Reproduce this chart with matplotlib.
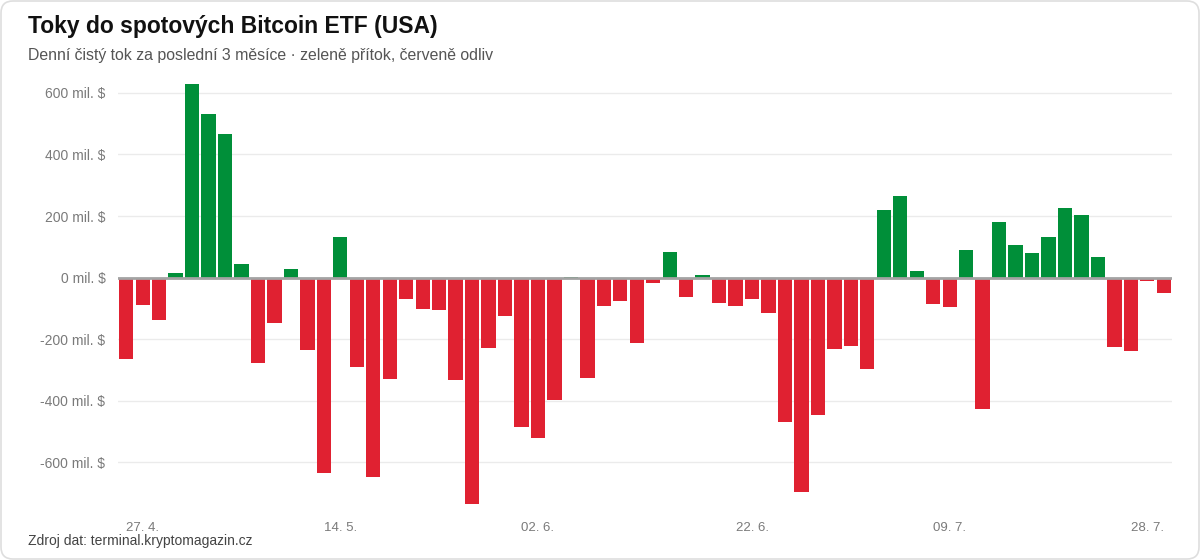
import matplotlib
matplotlib.use("Agg")
import matplotlib.pyplot as plt
from matplotlib.patches import FancyBboxPatch
from matplotlib.ticker import FixedLocator, FuncFormatter

plt.rcParams['font.family'] = ['Liberation Sans', 'DejaVu Sans']

# ---- data ----
dates = ["24. 4.", "27. 4.", "28. 4.", "29. 4.", "30. 4.", "04. 5.", "05. 5.", "06. 5.",
         "07. 5.", "08. 5.", "11. 5.", "12. 5.", "13. 5.", "14. 5.", "15. 5.", "18. 5.",
         "19. 5.", "20. 5.", "21. 5.", "22. 5.", "26. 5.", "27. 5.", "28. 5.", "29. 5.",
         "01. 6.", "02. 6.", "03. 6.", "04. 6.", "05. 6.", "08. 6.", "09. 6.", "10. 6.",
         "11. 6.", "12. 6.", "15. 6.", "16. 6.", "17. 6.", "18. 6.", "22. 6.", "23. 6.",
         "24. 6.", "25. 6.", "26. 6.", "29. 6.", "30. 6.", "01. 7.", "02. 7.", "06. 7.",
         "07. 7.", "08. 7.", "09. 7.", "10. 7.", "13. 7.", "15. 7.", "16. 7.", "17. 7.",
         "20. 7.", "21. 7.", "22. 7.", "23. 7.", "24. 7.", "27. 7.", "28. 7.", "29. 7."]

flows = [-263, -90, -137, 14, 629, 532, 466, 45, -278, -146, 27, -234, -635, 131, -290, -648,
         -331, -70, -101, -105, -333, -734, -228, -126, -484, -520, -397, 3, -327, -91, -77, -214,
         -19, 84, -64, 9, -82, -91, -68, -115, -469, -697, -445, -232, -223, -296, 221, 264,
         21, -86, -96, 89, -426, 180, 107, 79, 131, 226, 202, 68, -225, -240, -12, -50]

tick_labels = ["27. 4.", "14. 5.", "02. 6.", "22. 6.", "09. 7.", "28. 7."]
y_ticks = [-600, -400, -200, 0, 200, 400, 600]

title = "Toky do spotových Bitcoin ETF (USA)"
subtitle = "Denní čistý tok za poslední 3 měsíce · zeleně přítok, červeně odliv"
source = "Zdroj dat: terminal.kryptomagazin.cz"

GREEN = "#008f39"
RED = "#e02131"

W, H = 1200, 560
fig = plt.figure(figsize=(W / 100, H / 100), dpi=100)
fig.patch.set_facecolor("white")

# card background
bg = fig.add_axes([0, 0, 1, 1], zorder=-10)
bg.set_xlim(0, W)
bg.set_ylim(H, 0)
bg.axis("off")
bg.add_patch(FancyBboxPatch((1, 1), W - 2, H - 2,
                            boxstyle="round,pad=0,rounding_size=12",
                            facecolor="white", edgecolor="#dedede", linewidth=1.2))

left, right, top, bottom = 118, 1172, 84, 503.5
ax = fig.add_axes([left / W, 1 - bottom / H, (right - left) / W, (bottom - top) / H])
ax.set_facecolor("none")

x = list(range(len(flows)))
colors = [GREEN if v >= 0 else RED for v in flows]
ax.bar(x, flows, width=0.87, color=colors, zorder=3, linewidth=0)

ax.set_xlim(-0.5, len(flows) - 0.5)
ax.set_ylim(min(flows), max(flows))

ax.yaxis.set_major_locator(FixedLocator(y_ticks))
ax.yaxis.set_major_formatter(FuncFormatter(lambda v, p: f"{int(v)} mil. $"))
ax.grid(axis="y", color="#ebebeb", linewidth=1, zorder=0)
ax.axhline(0, color="#a3a3a3", linewidth=2, zorder=4)

ax.set_xticks([dates.index(t) for t in tick_labels])
ax.set_xticklabels(tick_labels)

for s in ax.spines.values():
    s.set_visible(False)
ax.tick_params(axis="y", length=0, pad=9, labelsize=10, labelcolor="#7a7a7a")
ax.tick_params(axis="x", length=0, pad=13, labelsize=9.5, labelcolor="#7a7a7a")

fig.text(28 / W, 1 - 33 / H, title, fontsize=16.45, fontweight="bold", color="#111111",
         va="baseline", ha="left")
fig.text(28 / W, 1 - 60 / H, subtitle, fontsize=11.4, color="#555555",
         va="baseline", ha="left")
fig.text(28 / W, 1 - 545 / H, source, fontsize=10, color="#444444",
         va="baseline", ha="left")

fig.savefig("out.png", dpi=100)
